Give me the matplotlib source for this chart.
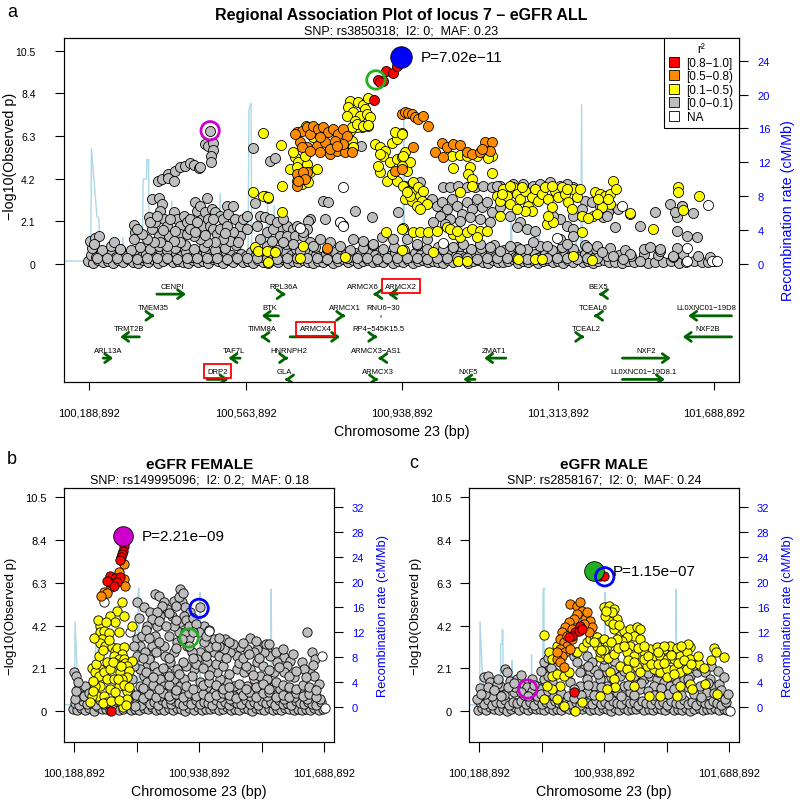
import matplotlib
matplotlib.use('Agg')
import matplotlib.pyplot as plt
from matplotlib.lines import Line2D
from matplotlib.patches import FancyArrowPatch

plt.rcParams['font.family'] = ['Liberation Sans', 'DejaVu Sans']

XLIM = (100.128, 101.749)
XTICKS = [100.188892, 100.563892, 100.938892, 101.313892, 101.688892]
COL = {'red': '#FF0000', 'orange': '#FF8C00', 'yellow': '#FFFF00',
       'gray': '#BEBEBE', 'white': '#FFFFFF'}

# recombination rate (cM/Mb), same map in every panel
rec_pos = [100.129, 100.192, 100.194, 100.207, 100.212, 100.214, 100.266, 100.269,
           100.272, 100.316, 100.318, 100.326, 100.327, 100.331, 100.333, 100.384,
           100.387, 100.390, 100.500, 100.503, 100.506, 100.570, 100.572, 100.577,
           100.579, 100.614, 100.617, 100.620, 100.630, 100.633, 100.636, 100.942,
           100.944, 100.946, 101.199, 101.202, 101.205, 101.266, 101.269, 101.272,
           101.354, 101.357, 101.360, 101.369, 101.371, 101.373, 101.700]
rec_rate = [0.3, 0.3, 13.6, 5.6, 5.3, 0.4, 0.5, 3.1,
            0.4, 0.4, 10.0, 10.0, 12.3, 12.3, 0.3, 0.4,
            7.4, 0.4, 0.3, 8.3, 0.3, 0.4, 18.2, 19.0,
            0.3, 0.3, 7.2, 0.3, 0.3, 6.8, 0.3, 0.3,
            18.3, 0.3, 0.3, 5.7, 0.3, 0.3, 4.0, 0.3,
            0.3, 4.0, 0.3, 0.3, 18.8, 0.3, 0.3]

# lead SNPs: female, male, all
lead_female_pos = 100.479
lead_male_pos = 100.876
lead_all_pos = 100.937

# ---------------------------------------------------------------- panel a
a_gray = [
    # baseline
    (100.186,0.12),(100.198,0.05),(100.210,0.20),(100.222,0.08),(100.234,0.15),(100.246,0.04),
    (100.258,0.18),(100.270,0.07),(100.282,0.22),(100.294,0.10),(100.306,0.03),(100.318,0.16),
    (100.330,0.09),(100.342,0.21),(100.354,0.05),(100.366,0.13),(100.378,0.24),(100.390,0.06),
    (100.402,0.15),(100.414,0.10),(100.426,0.03),(100.438,0.19),(100.450,0.08),(100.462,0.14),
    (100.474,0.05),(100.486,0.22),(100.498,0.11),(100.510,0.04),(100.522,0.17),(100.534,0.09),
    (100.546,0.23),(100.558,0.06),(100.570,0.14),(100.582,0.03),(100.594,0.19),(100.606,0.10),
    (100.618,0.05),(100.630,0.16),(100.642,0.08),(100.654,0.21),(100.666,0.04),(100.678,0.13),
    (100.690,0.07),(100.702,0.18),(100.714,0.10),(100.726,0.03),(100.738,0.15),(100.750,0.09),
    (100.762,0.20),(100.774,0.05),(100.786,0.12),(100.798,0.24),(100.810,0.07),(100.822,0.16),
    (100.834,0.04),(100.846,0.11),(100.858,0.19),(100.870,0.06),(100.882,0.14),(100.894,0.09),
    (100.906,0.22),(100.918,0.05),(100.930,0.13),(100.942,0.08),(100.954,0.17),(100.966,0.04),
    (100.978,0.12),(100.990,0.20),(101.002,0.06),(101.014,0.15),(101.026,0.09),(101.038,0.03),
    (101.050,0.18),(101.062,0.07),(101.074,0.13),(101.086,0.21),(101.098,0.05),(101.110,0.11),
    (101.122,0.16),(101.134,0.08),(101.146,0.03),(101.158,0.19),(101.170,0.10),(101.182,0.06),
    (101.194,0.14),(101.206,0.22),(101.218,0.04),(101.230,0.12),(101.242,0.09),(101.254,0.17),
    (101.266,0.05),(101.278,0.13),(101.290,0.20),(101.302,0.07),(101.314,0.11),(101.326,0.04),
    (101.338,0.16),(101.350,0.09),(101.362,0.21),(101.374,0.06),(101.386,0.14),(101.398,0.03),
    (101.410,0.12),(101.424,0.18),(101.438,0.07),(101.452,0.10),(101.468,0.05),(101.482,0.15),
    (101.497,0.08),(101.514,0.12),(101.530,0.04),(101.548,0.10),(101.566,0.07),(101.585,0.13),
    (101.604,0.05),(101.622,0.09),(101.642,0.12),(101.660,0.06),(101.674,0.10),(101.690,0.14),
    (100.192,0.42),(100.204,0.33),(100.216,0.55),(100.228,0.38),(100.240,0.47),(100.252,0.30),
    (100.264,0.52),(100.276,0.36),(100.288,0.44),(100.300,0.58),(100.312,0.34),(100.324,0.49),
    (100.336,0.40),(100.348,0.31),(100.360,0.54),(100.372,0.43),(100.384,0.35),(100.396,0.50),
    (100.408,0.39),(100.420,0.57),(100.432,0.32),(100.444,0.46),(100.456,0.38),(100.468,0.53),
    (100.480,0.30),(100.492,0.44),(100.504,0.36),(100.516,0.55),(100.528,0.41),(100.540,0.33),
    (100.552,0.48),(100.564,0.37),(100.576,0.59),(100.588,0.42),(100.600,0.31),(100.612,0.50),
    (100.624,0.38),(100.636,0.45),(100.648,0.34),(100.660,0.56),(100.672,0.40),(100.684,0.32),
    (100.696,0.47),(100.708,0.36),(100.720,0.53),(100.732,0.43),(100.744,0.30),(100.756,0.49),
    (100.768,0.39),(100.780,0.57),(100.792,0.35),(100.804,0.44),(100.816,0.32),(100.828,0.51),
    (100.840,0.40),(100.852,0.34),(100.864,0.55),(100.876,0.42),(100.888,0.31),(100.900,0.47),
    (100.912,0.38),(100.924,0.53),(100.936,0.36),(100.948,0.44),(100.960,0.30),(100.972,0.50),
    (100.984,0.41),(100.996,0.34),(101.008,0.56),(101.020,0.39),(101.032,0.45),(101.044,0.32),
    (101.056,0.52),(101.068,0.37),(101.080,0.43),(101.092,0.30),(101.104,0.48),(101.116,0.40),
    (101.128,0.55),(101.140,0.35),(101.152,0.44),(101.164,0.31),(101.176,0.50),(101.188,0.38),
    (101.200,0.46),(101.212,0.33),(101.224,0.54),(101.236,0.41),(101.248,0.36),(101.260,0.49),
    (101.272,0.32),(101.284,0.45),(101.296,0.39),(101.308,0.57),(101.320,0.34),(101.332,0.43),
    (101.344,0.37),(101.356,0.52),(101.368,0.30),(101.380,0.46),(101.392,0.40),(101.404,0.33),
    (101.418,0.50),(101.432,0.38),(101.460,0.42),(101.490,0.35),(101.520,0.47),(101.555,0.40),
    (101.590,0.33),(101.615,0.45),(101.650,0.38),(101.680,0.30),
    (100.195,0.75),(100.220,0.68),(100.240,0.85),(100.262,0.72),(100.290,0.66),(100.310,0.80),
    (100.335,0.70),(100.355,0.88),(100.375,0.65),(100.395,0.78),(100.418,0.92),(100.440,0.70),
    (100.465,0.84),(100.490,0.68),(100.515,0.75),(100.540,0.90),(100.590,0.72),(100.615,0.85),
    (100.640,0.68),(100.660,0.95),(100.685,0.74),(100.705,0.66),(100.730,0.82),(100.760,0.70),
    (100.790,0.88),(100.815,0.66),(100.845,0.78),(100.870,0.92),(100.895,0.70),(100.920,0.84),
    (100.945,0.66),(100.975,0.90),(101.000,0.72),(101.025,0.80),(101.050,0.66),(101.080,0.86),
    (101.105,0.70),(101.130,0.78),(101.160,0.92),(101.185,0.68),(101.215,0.82),(101.240,0.74),
    (101.270,0.88),(101.300,0.66),(101.325,0.80),(101.350,0.72),(101.380,0.90),(101.405,0.70),
    (101.440,0.78),(101.475,0.66),(101.520,0.70),(101.560,0.62),(101.600,0.75),
    (100.207,0.28),(100.231,0.26),(100.255,0.29),(100.280,0.27),(100.303,0.25),(100.327,0.29),
    (100.351,0.26),(100.375,0.28),(100.399,0.25),(100.423,0.29),(100.447,0.27),(100.471,0.26),
    (100.495,0.29),(100.519,0.25),(100.543,0.28),(100.567,0.27),(100.591,0.26),(100.615,0.29),
    (100.639,0.25),(100.663,0.28),(100.687,0.27),(100.711,0.26),(100.735,0.29),(100.759,0.25),
    (100.783,0.28),(100.807,0.27),(100.831,0.26),(100.855,0.29),(100.879,0.25),(100.903,0.28),
    (100.927,0.27),(100.951,0.26),(100.975,0.29),(100.999,0.25),(101.023,0.28),(101.047,0.27),
    (101.071,0.26),(101.095,0.29),(101.119,0.25),(101.143,0.28),(101.167,0.27),(101.191,0.26),
    (101.215,0.29),(101.239,0.25),(101.263,0.28),(101.287,0.27),(101.311,0.26),(101.335,0.29),
    (101.359,0.25),(101.383,0.28),(101.407,0.27),
    # left end
    (100.191,1.13),(100.203,1.24),(100.213,1.34),(100.199,0.96),(100.247,1.05),(100.263,0.72),
    (100.295,1.90),(100.299,1.54),(100.295,1.21),
    # lower cloud left of the peak
    (100.339,3.19),(100.355,3.22),(100.363,2.94),(100.359,2.61),(100.331,2.28),(100.339,1.70),
    (100.347,2.03),(100.355,1.38),(100.367,2.20),(100.375,1.87),(100.379,1.38),(100.391,2.53),
    (100.399,2.20),(100.407,1.87),(100.407,1.46),(100.415,2.36),(100.423,2.03),(100.431,2.20),
    (100.443,3.02),(100.447,2.61),(100.455,2.86),(100.459,2.20),(100.463,1.87),(100.467,2.53),
    (100.471,3.22),(100.475,2.20),(100.479,1.87),(100.487,1.70),(100.495,1.46),(100.483,2.69),
    (100.491,2.53),(100.503,2.36),(100.511,2.20),(100.519,2.86),(100.523,2.45),(100.535,2.86),
    (100.539,2.20),(100.551,1.87),(100.559,2.20),(100.567,2.36),(100.567,1.70),(100.551,1.38),
    (100.535,1.54),(100.527,1.13),(100.511,1.21),(100.491,1.05),(100.471,1.05),(100.455,1.21),
    (100.439,1.38),(100.423,1.46),(100.407,1.05),(100.391,1.13),(100.375,0.88),(100.359,1.05),
    (100.343,1.05),(100.327,1.21),(100.315,1.46),(100.303,1.70),(100.335,2.03),(100.351,2.36),
    (100.383,2.20),(100.431,1.70),(100.447,2.03),(100.487,2.20),(100.503,1.70),(100.519,1.87),
    (100.395,1.62),(100.443,1.55),(100.467,1.40),(100.515,1.50),(100.545,1.05),(100.365,1.65),
    # upper arc towards the female lead
    (100.353,4.06),(100.363,4.18),(100.377,4.42),(100.377,4.21),(100.391,4.09),(100.395,4.59),
    (100.407,4.75),(100.419,4.83),(100.431,4.95),(100.439,4.87),(100.451,4.70),(100.455,4.75),
    (100.467,5.90),(100.475,5.82),(100.485,5.95),(100.487,5.62),(100.481,5.33),(100.481,5.03),
    (100.479,6.56),
    # centre
    (100.581,5.69),(100.623,5.08),(100.635,5.20),(100.751,3.11),(100.763,3.02),(100.827,2.61),
    (100.755,2.20),(100.719,2.20),(100.715,2.12),(100.867,2.28),(100.791,2.03),(100.799,1.90),
    (100.841,5.79),(100.599,2.36),(100.611,2.28),(100.623,2.20),(100.647,1.79),(100.663,1.87),
    (100.679,1.70),(100.591,1.87),(100.615,1.54),(100.631,1.70),(100.647,1.38),(100.663,1.38),
    (100.683,1.38),(100.703,1.38),(100.711,1.70),(100.599,1.21),(100.627,1.13),(100.655,1.05),
    (100.679,0.96),(100.719,1.05),(100.743,1.21),(100.767,1.05),(100.823,1.21),(100.847,1.13),
    (100.871,0.96),(100.891,1.30),(100.919,1.21),(100.727,0.88),(100.695,0.63),(100.639,2.03),
    (100.655,2.20),(100.687,1.87),(100.703,1.54),(100.929,2.53),(100.587,2.99),
    # right half
    (100.947,3.85),(100.963,3.93),(100.983,4.01),(101.039,3.76),(101.055,3.76),(101.075,3.85),
    (101.095,3.76),(101.115,3.76),(101.135,3.85),(101.155,3.76),(101.175,3.85),(101.207,3.93),
    (101.231,3.93),(101.255,3.85),(101.295,4.01),(101.319,3.85),(101.351,3.76),(101.379,3.11),
    (101.011,3.19),(101.023,2.86),(101.035,3.02),(101.047,2.69),(101.059,3.19),(101.071,2.86),
    (101.083,2.45),(101.095,3.02),(101.107,2.69),(101.119,3.19),(101.131,2.78),(101.143,3.02),
    (101.155,2.53),(101.031,2.36),(101.055,2.20),(101.079,2.12),(101.103,2.28),(101.127,2.20),
    (101.151,2.03),(101.015,2.03),(101.043,1.95),
    (101.175,2.78),(101.199,2.36),(101.223,2.03),(101.239,1.70),(101.259,1.62),(101.319,2.20),
    (101.335,1.87),(101.303,2.36),(101.351,2.36),(101.371,2.69),(101.167,3.85),(101.271,3.93),
    (101.335,3.93),(101.215,1.79),(101.351,1.70),
    (100.951,1.21),(100.975,0.96),(100.999,1.21),(101.039,0.72),(101.063,0.80),(101.087,0.96),
    (101.127,0.96),(101.151,0.80),(101.175,0.63),(101.199,0.88),(101.223,0.72),(101.255,1.05),
    (101.287,0.88),(101.319,1.21),(101.351,1.38),(101.335,0.96),(101.383,0.80),(101.407,0.88),
    (101.419,0.55),
    (101.395,3.02),(101.423,2.28),(101.451,1.79),(101.487,2.45),(101.511,1.87),(101.547,2.53),
    (101.583,2.94),(101.599,2.28),(101.613,2.82),(101.623,1.38),(101.647,1.30),(101.639,2.48),
    (101.599,1.62),(101.535,0.80),(101.559,0.72),(101.591,0.39),(101.487,0.47),(101.511,0.14),
    (101.447,0.39),(101.471,0.22),(101.459,2.69),(101.415,2.86),(101.435,2.53),(101.595,2.53),
    (101.611,2.86),(101.431,2.36),
]
a_white = [(100.799,3.76),(100.695,1.74),(100.791,2.07),(100.799,1.87),(101.469,2.83),
           (101.675,2.89),(101.623,0.75),(101.311,1.24),(101.037,1.01),(101.683,0.14),
           (101.695,0.14),(101.623,0.14)]
a_yellow = [
    (100.815,8.05),(100.835,7.96),(100.847,7.83),(100.851,7.63),(100.811,7.72),(100.823,7.47),
    (100.839,7.31),(100.855,7.39),(100.863,7.22),(100.807,7.31),(100.827,7.06),(100.843,6.76),
    (100.859,6.81),(100.831,6.73),(100.815,6.56),(100.859,8.16),(100.819,6.07),(100.821,5.74),
    (100.605,6.43),(100.649,5.87),(100.651,3.85),(100.583,3.52),(100.611,3.32),(100.617,3.24),
    (100.651,2.53),(100.587,0.80),(100.595,0.64),(100.615,0.64),(100.635,0.55),(100.617,0.06),
    (100.703,0.88),(100.695,0.26),(100.803,0.31),(100.901,1.54),(100.607,3.32),(100.619,3.27),
    (100.709,6.81),(100.727,6.23),(100.747,6.32),(100.819,6.73),(100.831,6.89),(100.847,6.81),
    (100.859,6.84),(100.823,5.74),
    (100.683,5.25),(100.691,5.00),(100.695,4.67),(100.699,4.34),(100.711,4.92),(100.719,4.50),
    (100.687,4.09),(100.699,3.93),(100.715,4.01),(100.735,4.67),(100.671,4.67),(100.679,5.49),
    (100.687,4.75),(100.707,5.33),
    (100.875,5.90),(100.887,5.74),(100.899,5.58),(100.915,5.95),(100.927,6.15),(100.939,6.45),
    (100.923,6.48),(100.895,5.33),(100.911,5.00),(100.927,5.16),(100.939,5.25),(100.887,4.50),
    (100.903,4.09),(100.927,4.09),(100.883,4.83),(100.915,4.42),(100.951,4.59),(100.947,5.49),
    (100.959,5.00),(100.887,5.41),
    (100.939,0.67),(100.941,1.76),
    (100.939,6.40),(100.941,5.33),(100.939,4.83),
    (100.943,3.85),(100.955,3.60),(100.967,4.01),(100.971,3.52),(100.979,3.76),(100.983,3.35),
    (100.987,3.11),(100.991,3.60),(100.947,3.19),(100.963,3.11),(100.999,2.94),(100.975,2.86),
    (100.983,2.69),(100.959,3.35),(100.951,3.52),
    (101.059,5.33),(101.079,5.36),(101.095,5.30),(101.119,5.33),(101.135,5.49),(101.155,5.33),
    (101.147,5.20),(101.063,4.70),(101.103,4.75),(101.099,4.42),(101.107,4.18),(101.109,3.85),
    (101.155,4.47),(101.079,3.55),
    (101.167,3.35),(101.175,3.11),(101.183,3.68),(101.191,3.35),(101.199,2.94),(101.207,3.76),
    (101.215,3.43),(101.223,3.19),(101.235,3.60),(101.243,2.86),(101.251,3.27),(101.259,3.68),
    (101.267,3.11),(101.275,3.43),(101.283,3.76),(101.291,3.19),(101.299,2.78),(101.307,3.60),
    (101.315,3.27),(101.323,3.76),(101.331,3.43),(101.339,3.02),(101.347,2.69),(101.351,3.68),
    (101.359,3.27),(101.367,3.68),(101.371,2.36),(101.287,1.95),(101.303,2.03),(101.291,2.36),
    (101.175,2.36),(101.251,2.61),(101.235,2.61),(101.215,2.69),(101.179,3.43),(101.199,3.85),
    (101.227,3.76),(101.299,3.85),(101.335,3.68),
    (100.939,1.71),(100.967,1.54),(100.983,1.54),(101.003,1.54),(101.023,1.62),(101.047,1.79),
    (101.063,1.46),(101.079,1.29),(101.095,1.54),(101.107,1.71),(101.127,1.62),(101.143,1.62),
    (101.119,1.29),(101.055,1.71),(101.071,1.62),
    (101.403,3.52),(101.415,3.43),(101.427,3.35),(101.439,3.43),(101.447,4.09),(101.453,3.68),
    (101.439,2.94),(101.419,2.78),(101.399,2.36),(101.407,2.45),(101.387,2.23),(101.371,1.54),
    (101.435,3.19),(101.411,3.19),
    (101.487,2.50),(101.543,1.71),(101.603,3.76),(101.603,3.52),(101.615,2.66),(101.653,3.35),
    (101.015,0.55),(101.075,0.14),(101.095,0.14),(101.219,0.22),(101.259,0.22),(101.275,0.22),
    (101.351,0.39),(101.395,0.19),
]
a_orange = [
    (100.687,6.48),(100.699,6.56),(100.711,6.73),(100.719,6.40),(100.727,6.81),(100.739,6.65),
    (100.751,6.73),(100.763,6.48),(100.775,6.65),(100.787,6.40),(100.799,6.65),(100.807,6.32),
    (100.695,5.99),(100.711,5.74),(100.735,5.82),(100.755,5.99),(100.767,5.41),(100.783,5.58),
    (100.803,5.49),(100.799,5.90),(100.779,6.07),(100.683,6.40),(100.743,6.23),
    (100.687,3.85),(100.699,4.18),(100.711,4.50),(100.687,4.42),(100.759,0.75),
    (100.923,4.59),(100.939,4.67),
    (100.699,5.74),(100.703,4.51),(100.707,4.18),(100.691,4.09),(100.719,5.58),(100.743,5.49),
    (100.767,5.66),(100.783,5.82),(100.819,5.49),
    (100.939,7.39),(100.947,7.47),(100.955,7.44),(100.963,7.39),(100.971,7.22),(100.979,7.14),
    (100.991,7.31),(101.003,6.81),(100.967,5.77),
    (101.019,5.49),(101.035,5.95),(101.047,5.74),(101.063,5.90),(101.079,5.86),(101.095,5.49),
    (101.107,5.41),(101.127,5.49),(101.139,6.02),(101.155,5.99),(101.151,5.58),(101.131,5.66),
    (101.039,5.25),
]
a_red = [(100.873,8.10),(100.881,9.07),(100.895,9.03),(100.887,8.95),(100.901,9.53),
         (100.917,9.41),(100.927,9.75)]
a_lead = (lead_all_pos, 10.19)
a_ring_male = (100.877, 9.07)
a_ring_female = (100.479, 6.56)

# gene track: name, start, end, strand, row, label position
gene_name = ['CENPI', 'RPL36A', 'ARMCX6', 'ARMCX2', 'BEX5',
             'TMEM35', 'BTK', 'ARMCX1', 'RNU6\u221230', 'TCEAL6', 'LL0XNC01\u221219D8',
             'TRMT2B', 'TIMM8A', 'ARMCX4', 'RP4\u2212545K15.5', 'TCEAL2', 'NXF2B',
             'ARL13A', 'TAF7L', 'HNRNPH2', 'ARMCX3\u2212AS1', 'ZMAT1', 'NXF2',
             'DRP2', 'GLA', 'ARMCX3', 'NXF5', 'LL0XNC01\u221219D8.1']
gene_start = [100.351, 100.655, 100.871, 100.906, 101.413,
              100.340, 100.603, 100.798, 100.8880, 101.401, 101.627,
              100.263, 100.600, 100.671, 100.875, 101.372, 101.614,
              100.222, 100.523, 100.661, 100.883, 101.137, 101.469,
              100.472, 100.659, 100.877, 101.087, 101.469]
gene_end = [100.421, 100.660, 100.876, 100.928, 101.418,
            100.345, 100.643, 100.803, 100.8886, 101.406, 101.731,
            100.309, 100.605, 100.791, 100.880, 101.377, 101.731,
            100.246, 100.551, 100.666, 100.888, 101.189, 101.585,
            100.523, 100.664, 100.882, 101.115, 101.571]
gene_strand = ['+', '+', '-', '-', '-',
               '+', '-', '+', '.', '-', '-',
               '-', '-', '+', '+', '+', '-',
               '+', '-', '+', '-', '-', '+',
               '+', '-', '+', '-', '+']
gene_row = [1, 1, 1, 1, 1, 2, 2, 2, 2, 2, 2, 3, 3, 3, 3, 3, 3,
            4, 4, 4, 4, 4, 4, 5, 5, 5, 5, 5]
gene_label_pos = [100.387, 100.656, 100.847, 100.937, 101.410,
                  100.343, 100.623, 100.803, 100.895, 101.398, 101.670,
                  100.285, 100.603, 100.732, 100.883, 101.381, 101.673,
                  100.235, 100.536, 100.667, 100.879, 101.161, 101.527,
                  100.497, 100.657, 100.883, 101.099, 101.519]
genes_marked = ['ARMCX2', 'ARMCX4', 'DRP2']
row_level = {1: -1.51, 2: -2.58, 3: -3.62, 4: -4.67, 5: -5.72}

# ---------------------------------------------------------------- panel b
b_gray = [
    (100.180,0.10),(100.205,0.05),(100.230,0.18),(100.255,0.08),(100.280,0.14),(100.305,0.03),
    (100.330,0.20),(100.355,0.09),(100.380,0.12),(100.405,0.06),(100.430,0.17),(100.455,0.04),
    (100.480,0.11),(100.505,0.19),(100.530,0.07),(100.555,0.13),(100.580,0.05),(100.605,0.16),
    (100.630,0.09),(100.655,0.21),(100.680,0.04),(100.705,0.12),(100.730,0.08),(100.755,0.15),
    (100.780,0.06),(100.805,0.18),(100.830,0.10),(100.855,0.03),(100.880,0.14),(100.905,0.07),
    (100.930,0.19),(100.955,0.05),(100.980,0.12),(101.005,0.09),(101.030,0.16),(101.055,0.04),
    (101.080,0.11),(101.105,0.20),(101.130,0.07),(101.155,0.13),(101.180,0.06),(101.205,0.17),
    (101.230,0.09),(101.255,0.03),(101.280,0.15),(101.305,0.10),(101.330,0.05),(101.355,0.18),
    (101.380,0.08),(101.405,0.12),(101.430,0.04),(101.455,0.16),(101.480,0.10),(101.505,0.07),
    (101.530,0.13),(101.555,0.05),(101.580,0.11),(101.605,0.08),(101.630,0.14),(101.655,0.06),
    (101.680,0.10),
    (100.192,0.40),(100.217,0.33),(100.242,0.52),(100.267,0.36),(100.292,0.45),(100.317,0.30),
    (100.342,0.55),(100.367,0.38),(100.392,0.47),(100.417,0.32),(100.442,0.50),(100.467,0.41),
    (100.492,0.34),(100.517,0.56),(100.542,0.39),(100.567,0.44),(100.592,0.31),(100.617,0.53),
    (100.642,0.37),(100.667,0.48),(100.692,0.33),(100.717,0.57),(100.742,0.40),(100.767,0.35),
    (100.792,0.51),(100.817,0.42),(100.842,0.30),(100.867,0.49),(100.892,0.38),(100.917,0.55),
    (100.942,0.34),(100.967,0.46),(100.992,0.40),(101.017,0.31),(101.042,0.54),(101.067,0.37),
    (101.092,0.45),(101.117,0.32),(101.142,0.50),(101.167,0.41),(101.192,0.36),(101.217,0.56),
    (101.242,0.38),(101.267,0.44),(101.292,0.30),(101.317,0.52),(101.342,0.39),(101.367,0.47),
    (101.392,0.33),(101.417,0.55),(101.442,0.36),(101.467,0.43),(101.492,0.31),(101.517,0.50),
    (101.542,0.40),(101.567,0.35),(101.592,0.48),(101.617,0.38),(101.642,0.30),(101.667,0.44),
    (100.186,1.91),(100.202,1.74),(100.216,1.17),(100.236,1.09),(100.226,0.76),(100.266,0.93),
    (100.196,0.60),(100.200,1.00),(100.245,0.75),(100.255,1.25),(100.280,0.90),(100.210,1.45),
    (100.566,5.34),(100.606,5.10),(100.646,4.85),(100.676,5.75),(100.696,5.67),(100.726,5.34),
    (100.746,5.02),(100.776,4.69),(100.786,5.43),(100.826,6.00),(100.836,5.34),(100.856,5.10),
    (100.886,4.85),(100.942,5.10),(100.966,4.20),(101.026,3.54),(101.096,3.54),(101.146,3.05),
    (101.246,3.58),(101.306,3.22),(101.346,2.97),(101.446,2.64),(101.506,1.66),(101.586,3.90),
    (101.616,2.89),(101.636,2.56),(101.556,2.40),(101.606,1.91),(101.656,1.34),(101.666,0.60),
    (101.626,1.74),(101.566,2.07),(101.486,2.48),(101.466,2.24),(101.446,1.91),(101.406,2.40),
    (101.386,1.91),(101.366,2.73),(101.326,2.89),(101.286,3.05),(101.266,2.89),(101.226,3.05),
    (101.186,3.13),(101.166,2.73),(101.126,2.89),(101.086,3.05),(101.056,3.22),(101.026,2.89),
    (100.996,3.13),(100.966,3.38),(100.946,2.89),(100.926,2.56),(100.906,2.07),(100.896,1.74),
    (100.946,1.42),(100.986,1.17),(101.026,0.93),(101.066,0.68),(101.126,0.60),(101.186,0.93),
    (101.226,1.25),(101.266,1.58),(101.306,1.74),(101.346,1.58),(101.386,1.25),(101.426,1.09),
    (101.466,0.93),(101.506,0.68),(101.546,0.93),(101.586,0.60),(101.146,1.25),(101.106,1.42),
    (101.066,1.58),(101.046,1.91),(101.006,2.07),(100.986,2.40),(101.166,2.07),(101.206,1.91),
    (101.246,2.07),(101.286,2.40),(101.146,0.76),(101.246,0.76),(101.346,0.76),(101.446,0.60),
    (100.556,0.28),(100.576,0.76),(100.586,1.25),(100.606,1.74),(100.626,2.24),(100.646,2.73),
    (100.656,3.22),(100.676,3.71),(100.686,4.20),(100.706,4.69),(100.716,5.18),(100.566,3.54),
    (100.586,3.22),(100.616,2.89),(100.636,2.56),(100.666,2.24),(100.686,1.91),(100.706,1.58),
    (100.726,1.25),(100.746,0.93),(100.766,0.60),(100.746,1.91),(100.766,2.40),(100.786,2.89),
    (100.806,3.38),(100.816,3.87),(100.826,4.36),(100.846,4.69),(100.786,1.58),(100.826,1.25),
    (100.856,0.93),(100.866,3.22),(100.896,2.89),(100.876,3.59),(100.856,3.87),(100.836,3.54),
    (100.686,4.85),(100.656,4.53),(100.626,4.20),(100.596,3.71),(100.546,3.22),(100.566,2.73),
    (100.586,2.07),(100.626,1.42),(100.666,1.09),(100.706,0.76),(100.806,2.07),(100.846,1.58),
    (100.726,3.22),(100.756,3.71),(100.736,2.73),(100.786,4.20),(100.546,2.24),(100.536,1.58),
    (100.526,0.93),
    (100.560,0.80),(100.600,0.65),(100.640,0.85),(100.680,0.70),(100.720,0.90),(100.760,0.75),
    (100.800,0.85),(100.840,0.70),(100.880,0.90),(100.920,0.75),(100.960,0.85),(101.000,0.70),
    (101.040,0.82),(101.080,0.90),(101.120,0.78),(101.160,0.66),(101.200,0.82),(101.240,0.95),
    (101.280,0.70),(101.320,0.88),(101.360,0.95),(101.400,0.72),(101.440,0.82),(101.480,0.70),
    (101.520,0.88),(101.560,0.75),(101.600,0.85),(101.640,0.70),
    (100.600,1.15),(100.660,1.30),(100.700,1.10),(100.760,1.30),(100.800,1.05),(100.860,1.25),
    (100.900,1.10),(100.960,1.30),(101.000,1.45),(101.040,1.30),(101.080,1.10),(101.120,1.20),
    (101.180,1.35),(101.220,1.10),(101.280,1.20),(101.320,1.35),(101.360,1.10),(101.400,1.45),
    (101.440,1.30),(101.480,1.20),(101.520,1.10),(101.560,1.30),(101.600,1.20),(101.640,1.05),
    (100.620,1.95),(100.660,1.70),(100.720,2.10),(100.760,1.75),(100.820,1.85),(100.860,2.20),
    (100.920,2.30),(100.960,2.10),(101.000,1.80),(101.040,2.30),(101.080,2.20),(101.120,1.85),
    (101.180,2.35),(101.220,2.20),(101.260,1.80),(101.320,2.20),(101.360,2.05),(101.420,2.15),
    (101.480,1.75),(101.520,2.00),(101.580,1.70),(101.620,2.25),
    (100.600,2.60),(100.680,2.90),(100.700,3.40),(100.760,2.60),(100.800,3.10),(100.840,2.40),
    (100.880,3.20),(100.900,2.60),(100.980,2.70),(101.040,3.20),(101.060,2.70),(101.100,2.60),
    (101.140,3.30),(101.200,2.60),(101.240,2.80),(101.300,2.60),(101.340,3.30),(101.400,2.90),
    (101.440,3.05),(101.500,2.80),
    (100.580,4.60),(100.620,4.00),(100.640,3.60),(100.700,4.45),(100.740,4.20),(100.760,4.80),
    (100.800,4.50),(100.800,5.15),(100.820,5.60),(100.840,5.80),(100.860,4.50),(100.880,4.20),
    (100.900,4.60),(100.920,4.30),(100.940,3.90),(100.900,3.90),(100.980,3.70),(101.000,4.00),
    (101.060,3.60),(101.120,3.40),(101.200,3.35),(101.280,3.45),(101.360,3.30),
]
b_white = [(100.366,5.34),(100.522,3.87),(100.996,3.95),(101.676,2.73),(101.696,0.15)]
b_yellow = [
    (100.476,5.34),(100.446,4.93),(100.490,4.66),(100.406,4.69),(100.436,4.36),(100.346,4.20),
    (100.342,3.87),(100.366,3.95),(100.396,3.84),(100.356,3.54),(100.346,3.35),(100.376,3.22),
    (100.416,3.13),(100.436,2.97),(100.446,3.09),(100.486,3.13),(100.476,2.81),(100.426,2.73),
    (100.456,2.56),(100.486,2.56),(100.496,2.37),(100.536,2.48),(100.506,2.20),(100.436,2.37),
    (100.386,2.43),(100.346,2.07),(100.296,2.10),(100.316,1.91),(100.336,1.71),(100.366,1.91),
    (100.406,2.07),(100.466,1.91),(100.516,1.99),(100.506,1.66),(100.456,1.25),(100.406,1.09),
    (100.346,1.25),(100.326,0.76),(100.366,0.76),(100.296,0.76),(100.436,0.93),(100.506,1.01),
    (100.506,0.60),(100.482,0.19),(100.536,4.20),(100.456,3.87),(100.316,1.25),(100.386,1.58),
    (100.426,1.58),(100.476,1.58),(100.286,0.44),(100.386,0.44),
    (100.300,1.50),(100.320,2.30),(100.340,2.70),(100.360,3.00),(100.310,3.60),(100.330,4.50),
    (100.380,4.40),(100.400,3.50),(100.420,2.40),(100.450,1.60),(100.470,2.20),(100.490,1.30),
    (100.520,1.20),(100.300,1.00),(100.360,0.40),(100.410,0.50),(100.460,0.55),(100.500,0.30),
]
b_orange = [(100.490,7.23),(100.486,6.49),(100.496,6.16),(100.410,6.08),(100.366,5.83),
            (100.386,5.80),(100.352,5.67),(100.456,6.82)]
b_red = [(100.486,8.09),(100.482,7.88),(100.478,7.72),(100.472,7.55),(100.466,7.44),
         (100.406,6.65),(100.436,6.52),(100.462,6.57),(100.446,6.33),(100.396,6.36),
         (100.426,6.16),(100.386,6.41),(100.412,0.02)]
b_lead = (lead_female_pos, 8.62)
b_ring_all = (100.938, 5.05)
b_ring_male = (100.878, 3.60)

# ---------------------------------------------------------------- panel c
c_gray = [
    (100.180,0.08),(100.205,0.15),(100.230,0.04),(100.255,0.19),(100.280,0.10),(100.305,0.06),
    (100.330,0.16),(100.355,0.03),(100.380,0.12),(100.405,0.20),(100.430,0.07),(100.455,0.14),
    (100.480,0.05),(100.505,0.17),(100.530,0.09),(100.555,0.12),(100.580,0.04),(100.605,0.18),
    (100.630,0.08),(100.655,0.13),(100.680,0.06),(100.705,0.21),(100.730,0.10),(100.755,0.05),
    (100.780,0.15),(100.805,0.09),(100.830,0.19),(100.855,0.04),(100.880,0.12),(100.905,0.07),
    (100.930,0.16),(100.955,0.10),(100.980,0.03),(101.005,0.14),(101.030,0.08),(101.055,0.18),
    (101.080,0.05),(101.105,0.12),(101.130,0.09),(101.155,0.20),(101.180,0.06),(101.205,0.13),
    (101.230,0.04),(101.255,0.16),(101.280,0.10),(101.305,0.07),(101.330,0.19),(101.355,0.05),
    (101.380,0.12),(101.405,0.08),(101.430,0.15),(101.455,0.03),(101.480,0.11),(101.505,0.17),
    (101.530,0.06),(101.555,0.13),(101.580,0.09),(101.605,0.14),(101.630,0.05),(101.655,0.10),
    (101.675,0.07),
    (100.192,0.45),(100.217,0.36),(100.242,0.54),(100.267,0.31),(100.292,0.48),(100.317,0.39),
    (100.342,0.57),(100.367,0.33),(100.392,0.46),(100.417,0.40),(100.442,0.52),(100.467,0.35),
    (100.492,0.44),(100.517,0.30),(100.542,0.55),(100.567,0.38),(100.592,0.47),(100.617,0.34),
    (100.642,0.51),(100.667,0.41),(100.692,0.32),(100.717,0.56),(100.742,0.37),(100.767,0.45),
    (100.792,0.30),(100.817,0.50),(100.842,0.40),(100.867,0.35),(100.892,0.54),(100.917,0.38),
    (100.942,0.46),(100.967,0.31),(100.992,0.52),(101.017,0.42),(101.042,0.36),(101.067,0.55),
    (101.092,0.39),(101.117,0.44),(101.142,0.32),(101.167,0.50),(101.192,0.41),(101.217,0.35),
    (101.242,0.53),(101.267,0.38),(101.292,0.46),(101.317,0.30),(101.342,0.51),(101.367,0.40),
    (101.392,0.34),(101.417,0.56),(101.442,0.37),(101.467,0.45),(101.492,0.31),(101.517,0.49),
    (101.542,0.42),(101.567,0.36),(101.592,0.52),(101.617,0.39),(101.642,0.33),(101.667,0.47),
    (100.196,1.12),(100.216,1.66),(100.240,1.71),(100.256,1.42),(100.286,0.93),(100.346,2.07),
    (100.356,1.91),(100.316,1.25),(100.376,1.50),(100.416,1.58),(100.446,1.25),(100.476,1.17),
    (100.506,1.01),(100.536,1.25),(100.576,1.58),(100.586,2.07),(100.606,2.24),(100.636,1.91),
    (100.626,1.42),(100.266,0.76),(100.396,0.93),(100.536,0.76),(100.176,0.60),(100.226,0.85),
    (100.296,1.34),(100.406,1.17),(100.506,1.58),(100.556,1.09),(100.336,0.80),(100.456,0.80),
    (100.816,2.07),(100.856,1.91),(100.836,1.58),(100.876,1.25),(100.916,1.58),(100.956,1.91),
    (100.996,2.07),(101.036,1.74),(101.056,1.25),(101.096,0.93),(101.136,1.42),(101.176,1.58),
    (101.216,1.74),(101.256,1.58),(101.296,1.42),(101.336,1.25),(101.376,1.42),(101.416,1.58),
    (101.456,1.74),(101.496,1.91),(101.516,1.25),(101.556,0.93),(101.596,1.17),(101.636,0.76),
    (101.666,0.60),(101.516,2.24),(101.546,1.91),(101.576,1.58),(101.626,1.34),(101.236,1.25),
    (101.156,1.09),(101.016,0.93),(100.836,0.93),(100.796,1.25),(100.876,2.07),(100.936,2.24),
    (100.996,2.48),(100.936,2.56),(100.836,2.73),(100.866,2.40),(100.756,2.73),(100.776,2.40),
    (100.796,1.91),(100.716,1.74),(100.736,1.42),(100.636,2.73),(100.756,1.09),(100.956,1.25),
    (100.200,0.85),(100.240,1.20),(100.280,1.05),(100.320,0.75),(100.360,1.20),(100.400,1.40),
    (100.440,0.95),(100.480,0.75),(100.520,1.30),(100.560,0.85),(100.600,1.00),(100.640,0.75),
    (100.680,0.90),(100.720,0.75),(100.760,0.65),(100.800,0.80),(100.840,1.30),(100.880,0.80),
    (100.920,1.20),(100.960,0.75),(101.000,1.20),(101.040,0.75),(101.080,1.30),(101.120,0.80),
    (101.160,1.40),(101.200,1.00),(101.240,0.80),(101.280,1.15),(101.320,0.85),(101.360,1.10),
    (101.400,0.80),(101.440,1.20),(101.480,0.85),(101.520,0.70),(101.560,1.40),(101.600,0.90),
    (101.640,1.05),(101.680,0.85),
    (100.300,1.60),(100.440,1.80),(100.600,1.75),(100.840,2.20),(100.900,1.85),(100.980,1.70),
    (101.060,2.00),(101.120,1.75),(101.200,1.90),(101.260,1.95),(101.340,1.75),(101.400,2.10),
    (101.440,1.60),(101.480,2.25),(101.580,2.20),(101.620,2.00),(101.660,1.70),
    (100.580,2.40),(100.600,2.60),(100.620,2.10),(100.560,2.00),
]
c_white = [(101.692,0.03),(100.770,2.90)]
c_yellow = [
    (100.580,3.74),(100.606,2.89),(100.626,2.56),(100.656,3.22),(100.626,1.74),(100.656,1.83),
    (100.696,1.74),(100.676,1.25),(100.726,1.91),(100.776,2.92),(100.812,3.13),(100.836,3.38),
    (100.856,3.54),(100.876,3.71),(100.896,3.63),(100.916,3.38),(100.936,3.54),(100.956,3.22),
    (100.916,2.64),(100.936,5.10),(100.966,5.18),(100.996,5.02),(101.016,4.53),(100.966,4.44),
    (100.946,4.69),(100.986,4.85),(101.036,3.87),(101.056,3.95),(101.096,4.03),(101.136,4.12),
    (101.156,4.03),(101.116,3.71),(101.076,3.63),(101.046,3.46),(101.096,3.22),(101.156,3.54),
    (101.036,2.24),(101.076,2.07),(101.136,2.15),(101.196,2.24),(101.236,2.07),(101.276,1.91),
    (101.316,2.07),(101.356,2.07),(101.396,1.91),(101.436,2.07),(101.216,3.05),(101.256,3.13),
    (101.296,3.05),(101.336,3.22),(101.376,3.09),(101.416,3.05),(101.456,3.13),(101.236,2.56),
    (101.276,2.73),(101.316,2.56),(101.356,2.56),(101.396,2.73),(101.316,1.66),(101.356,1.83),
    (101.396,1.25),(101.456,1.34),(101.466,1.09),(101.546,1.34),(101.616,0.85),(101.596,3.09),
    (101.612,2.89),(101.656,2.64),(100.976,1.91),(100.996,1.58),(101.006,1.17),(100.956,1.09),
    (100.916,0.76),(101.096,1.74),(101.116,1.25),(101.156,1.91),(101.206,0.76),(101.276,0.76),
    (101.376,0.76),(100.656,0.60),(100.696,0.28),(100.766,0.03),(100.806,0.44),(100.626,1.09),
    (100.596,1.25),(100.576,0.60),(100.996,4.03),(101.016,3.54),(100.916,2.89),(100.896,3.22),
    (100.946,2.81),(101.076,2.89),(101.116,2.73),(101.176,2.89),(101.176,2.56),(101.436,2.89),
    (101.456,2.56),(101.506,2.32),
    (100.940,3.00),(100.960,2.60),(100.980,3.40),(101.000,2.80),(101.020,3.10),(101.060,3.20),
    (101.080,2.50),(101.120,2.40),(101.140,3.10),(101.180,3.20),(101.200,2.70),(101.220,2.30),
    (101.260,2.30),(101.300,2.35),(101.340,2.75),(101.380,2.35),(101.420,2.50),(101.460,2.30),
    (101.500,2.70),(101.540,2.10),(101.580,2.50),(101.440,3.30),(101.400,3.20),(101.300,3.20),
    (101.260,2.90),(100.990,4.30),(100.950,4.90),(101.030,4.25),(100.920,3.00),(100.880,3.40),
]
c_orange = [
    (100.736,5.26),(100.776,5.18),(100.796,5.34),(100.806,4.93),(100.776,4.77),(100.756,4.53),
    (100.726,4.36),(100.706,4.12),(100.746,4.03),(100.826,4.53),(100.856,4.44),(100.866,4.12),
    (100.846,3.87),(100.686,3.87),(100.676,3.54),(100.696,3.38),(100.716,3.22),(100.676,3.05),
    (100.706,2.89),(100.686,2.73),(100.656,2.56),(100.676,2.40),(100.696,2.15),(100.736,3.05),
    (100.746,3.54),(100.836,4.85),(100.816,4.28),(100.716,3.71),(100.656,2.89),
]
c_red = [(100.882,6.85),(100.902,6.73),(100.916,6.65),(100.940,6.62),(100.796,4.20),
         (100.766,3.87),(100.746,3.71),(100.786,3.95),(100.726,3.63),(100.806,4.03),
         (100.756,0.93)]
c_lead = (lead_male_pos, 6.90)
c_ring_all = (100.942, 6.60)
c_ring_female = (100.480, 1.09)


def dots(ax, pts, key, s):
    ax.scatter([p[0] for p in pts], [p[1] for p in pts], s=s, c=COL[key],
               edgecolors='black', linewidths=0.6, zorder=3)


def ring(ax, pt, color):
    ax.scatter([pt[0]], [pt[1]], s=175, facecolors='none', edgecolors=color,
               linewidths=2.0, zorder=5)


def base_axes(ax, ylim, rylim, rticks, yfs, ylpad, rlpad, xlpad, xlen):
    ax.set_xlim(*XLIM)
    ax.set_ylim(*ylim)
    ax.set_xticks(XTICKS)
    ax.set_yticks([0, 2.1, 4.2, 6.3, 8.4, 10.5])
    ax.set_yticklabels(['0', '2.1', '4.2', '6.3', '8.4', '10.5'])
    ax.tick_params(axis='y', direction='out', length=6.5, width=0.8, labelsize=yfs, pad=ylpad)
    ax.tick_params(axis='x', direction='out', length=xlen, width=0.8, labelsize=8, pad=xlpad)
    for sp in ax.spines.values():
        sp.set_linewidth(0.8)
    ax2 = ax.twinx()
    ax2.plot(rec_pos, rec_rate, color='lightblue', lw=1.0, zorder=1)
    ax2.set_ylim(*rylim)
    ax2.set_yticks(rticks)
    ax2.tick_params(axis='y', direction='out', length=6.5, width=0.8, labelsize=8,
                    labelcolor='blue', pad=rlpad)
    for sp in ax2.spines.values():
        sp.set_linewidth(0.8)
    ax.set_zorder(ax2.get_zorder() + 1)
    ax.patch.set_visible(False)
    return ax2


fig = plt.figure(figsize=(8, 8.04), dpi=100)

# ---------------- panel a
ax = fig.add_axes([0.08, 0.5236, 0.84375, 0.4279])
ax2 = base_axes(ax, (-5.85, 11.14), (-14.02, 26.69), [0, 4, 8, 12, 16, 20, 24],
                7.5, 14, 7, 12, 6)
ax.set_xticklabels(['{:,}'.format(int(round(t * 1e6))) for t in XTICKS])
dots(ax, a_gray, 'gray', 52)
dots(ax, a_white, 'white', 52)
dots(ax, a_yellow, 'yellow', 52)
dots(ax, a_orange, 'orange', 52)
dots(ax, a_red, 'red', 52)
ax.scatter([a_lead[0]], [a_lead[1]], s=240, c='#0000FF', edgecolors='black',
           linewidths=0.6, zorder=4)
ring(ax, a_ring_male, '#22B022')
ring(ax, a_ring_female, '#CD00CD')
ax.annotate('P=7.02e\u221211', a_lead, xytext=(14, 0), textcoords='offset points',
            ha='left', va='center', fontsize=11)

for name, g0, g1, st, row, lx in zip(gene_name, gene_start, gene_end, gene_strand,
                                    gene_row, gene_label_pos):
    y = row_level[row]
    if st == '.':
        ax.plot([g0, g1], [y, y], color='darkgreen', lw=2, solid_capstyle='butt', zorder=3)
    else:
        a0, a1 = (g0, g1) if st == '+' else (g1, g0)
        ax.add_patch(FancyArrowPatch((a0, y), (a1, y),
                                     arrowstyle='->,head_length=0.55,head_width=0.4',
                                     mutation_scale=8, lw=2.0, color='darkgreen',
                                     shrinkA=0, shrinkB=0, zorder=3))
    kw = {}
    if name in genes_marked:
        kw['bbox'] = dict(boxstyle='square,pad=0.45', fc='none', ec='red', lw=1.3)
    ax.text(lx, y + 0.4, name, fontsize=5.5, ha='center', va='center', zorder=4, **kw)

ax.set_xlabel('Chromosome 23 (bp)', fontsize=10.3, va='center')
ax.xaxis.set_label_coords(0.5, -0.142)
ax.set_ylabel('\u2212log10(Observed p)', fontsize=10.3, va='center')
ax.yaxis.set_label_coords(-0.08, 0.66)
ax2.set_ylabel('Recombination rate (cM/Mb)', fontsize=10.3, color='blue', va='center',
               rotation=90)
ax2.yaxis.set_label_coords(1.0726, 0.5)
ax.text(0.5, 1.067, 'Regional Association Plot of locus 7 \u2013 eGFR ALL',
        transform=ax.transAxes, ha='center', va='center', fontsize=11.5, fontweight='bold')
ax.text(0.5, 1.021, 'SNP: rs3850318;  I2: 0;  MAF: 0.23', transform=ax.transAxes,
        ha='center', va='center', fontsize=9)

handles = [Line2D([], [], marker='s', ls='none', mfc=COL[k], mec='black', ms=6.5, mew=0.6)
           for k in ['red', 'orange', 'yellow', 'gray', 'white']]
labels = ['[0.8\u22121.0]', '[0.5\u22120.8)', '[0.1\u22120.5)', '[0.0\u22120.1)', 'NA']
leg = ax.legend(handles, labels, loc='upper right', bbox_to_anchor=(1, 1),
                borderaxespad=0, fancybox=False, edgecolor='black', framealpha=1,
                fontsize=8.5, title='r\u00b2', title_fontsize=8.5, handlelength=0.8,
                handletextpad=0.7, labelspacing=0.13, borderpad=0.45)
leg.get_frame().set_linewidth(0.8)
leg.set_zorder(6)

# ---------------- panels b and c
for pos, gray, white, yel, ora, red, lead, lead_col, rings, ptxt, title, sub in [
        ([0.08, 0.0763, 0.3379, 0.3151], b_gray, b_white, b_yellow, b_orange, b_red,
         b_lead, '#CD00CD', [(b_ring_all, '#0000FF'), (b_ring_male, '#22B022')],
         'P=2.21e\u221209', 'eGFR FEMALE', 'SNP: rs149995096;  I2: 0.2;  MAF: 0.18'),
        ([0.5863, 0.0763, 0.3378, 0.3151], c_gray, c_white, c_yellow, c_orange, c_red,
         c_lead, '#22B022', [(c_ring_all, '#0000FF'), (c_ring_female, '#CD00CD')],
         'P=1.15e\u221207', 'eGFR MALE', 'SNP: rs2858167;  I2: 0;  MAF: 0.24')]:
    axp = fig.add_axes(pos)
    axq = base_axes(axp, (-1.49, 10.94), (-5.6, 34.94), [0, 4, 8, 12, 16, 20, 24, 28, 32],
                    8, 6, 6, 11.5, 7)
    lbl = ['{:,}'.format(int(round(t * 1e6))) for t in XTICKS]
    axp.set_xticklabels([lbl[0], '', lbl[2], '', lbl[4]])
    dots(axp, gray, 'gray', 45)
    dots(axp, white, 'white', 45)
    dots(axp, yel, 'yellow', 45)
    dots(axp, ora, 'orange', 45)
    dots(axp, red, 'red', 45)
    axp.scatter([lead[0]], [lead[1]], s=200, c=lead_col, edgecolors='black',
                linewidths=0.6, zorder=4)
    for pt, col in rings:
        ring(axp, pt, col)
    axp.annotate(ptxt, lead, xytext=(14, 0), textcoords='offset points',
                 ha='left', va='center', fontsize=11, zorder=6)
    axp.set_xlabel('Chromosome 23 (bp)', fontsize=10.3, va='center')
    axp.xaxis.set_label_coords(0.5, -0.193)
    axp.set_ylabel('\u2212log10(Observed p)', fontsize=9.5, va='center')
    axp.yaxis.set_label_coords(-0.195, 0.5)
    axq.set_ylabel('Recombination rate (cM/Mb)', fontsize=9.3, color='blue', va='center',
                   rotation=90)
    axq.yaxis.set_label_coords(1.18, 0.5)
    axp.text(0.5, 1.096, title, transform=axp.transAxes, ha='center', va='center',
             fontsize=11, fontweight='bold')
    axp.text(0.5, 1.033, sub, transform=axp.transAxes, ha='center', va='center',
             fontsize=9)

fig.text(0.009, 0.984, 'a', fontsize=13, va='center', ha='left')
fig.text(0.009, 0.428, 'b', fontsize=13, va='center', ha='left')
fig.text(0.512, 0.424, 'c', fontsize=13, va='center', ha='left')

fig.savefig('out.png', dpi=100)
